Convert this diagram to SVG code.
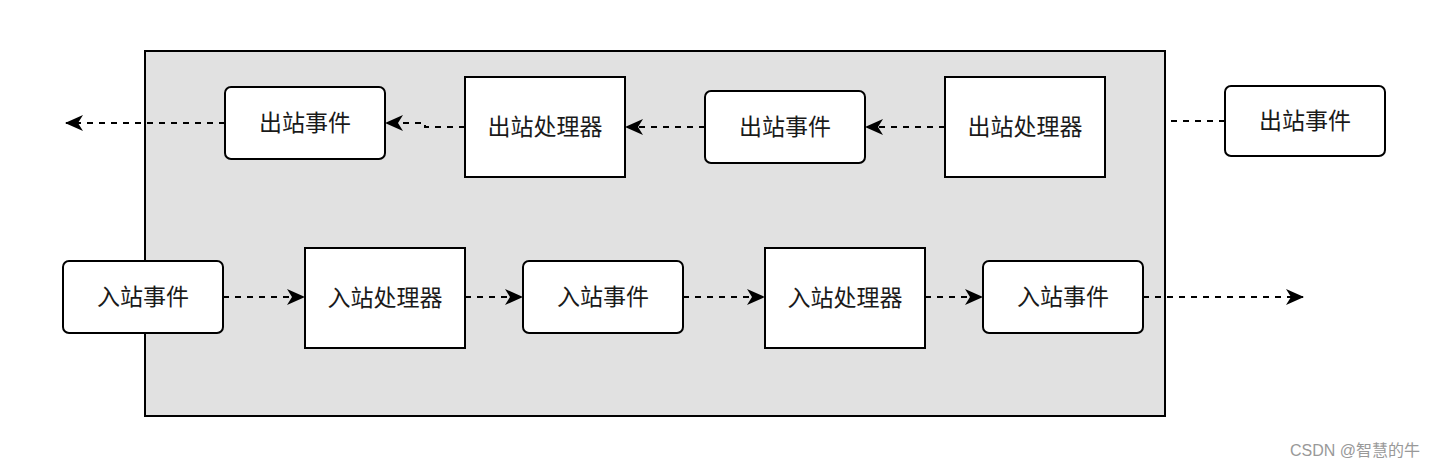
<svg xmlns="http://www.w3.org/2000/svg" width="1436" height="468" viewBox="0 0 1436 468">
<style>
.n{fill:#fff;stroke:#000;stroke-width:2}
.t{font-family:"Noto Sans CJK SC","Liberation Sans",sans-serif;font-size:23px;fill:#1a1a1a;text-anchor:middle;dominant-baseline:central}
.c{fill:none;stroke:#000;stroke-width:2;stroke-dasharray:6 6}
</style>
<defs>
<marker id="a" viewBox="0 0 18 18" refX="17" refY="9" markerWidth="18" markerHeight="18" markerUnits="userSpaceOnUse" orient="auto" overflow="visible">
<path d="M0,1 L18,9 L0,17 L5,9 Z" fill="#000"/>
</marker>
</defs>
<rect width="1436" height="468" fill="#fff"/>
<g id="container">
<rect x="145" y="51" width="1020" height="365" fill="#e1e1e1" stroke="#000" stroke-width="2"/>
</g>
<g id="connectors">
<path class="c" d="M1225,121 L1167,121"/>
<path class="c" d="M945,127 L866,127" marker-end="url(#a)"/>
<path class="c" d="M705,127 L626,127" marker-end="url(#a)"/>
<path class="c" d="M465,127 L425,127 L425,123 L386,123" marker-end="url(#a)"/>
<path class="c" d="M225,123 L66,123" marker-end="url(#a)"/>
<path class="c" d="M223,297 L304,297" marker-end="url(#a)"/>
<path class="c" d="M465,297 L522,297" marker-end="url(#a)"/>
<path class="c" d="M683,297 L764,297" marker-end="url(#a)"/>
<path class="c" d="M925,297 L982,297" marker-end="url(#a)"/>
<path class="c" d="M1143,297 L1303,297" marker-end="url(#a)"/>
</g>
<g id="out-event-1"><rect class="n" x="225" y="87" width="160" height="72" rx="6"/><text class="t" x="305" y="121">出站事件</text></g>
<g id="out-handler-1"><rect class="n" x="465" y="77" width="160" height="100"/><text class="t" x="545" y="125">出站处理器</text></g>
<g id="out-event-2"><rect class="n" x="705" y="91" width="160" height="72" rx="6"/><text class="t" x="785" y="125">出站事件</text></g>
<g id="out-handler-2"><rect class="n" x="945" y="77" width="160" height="100"/><text class="t" x="1025" y="125">出站处理器</text></g>
<g id="out-event-3"><rect class="n" x="1225" y="86" width="160" height="70" rx="6"/><text class="t" x="1305" y="119">出站事件</text></g>
<g id="in-event-1"><rect class="n" x="63" y="261" width="160" height="72" rx="6"/><text class="t" x="143" y="295">入站事件</text></g>
<g id="in-handler-1"><rect class="n" x="305" y="248" width="160" height="100"/><text class="t" x="385" y="296">入站处理器</text></g>
<g id="in-event-2"><rect class="n" x="523" y="261" width="160" height="72" rx="6"/><text class="t" x="603" y="295">入站事件</text></g>
<g id="in-handler-2"><rect class="n" x="765" y="248" width="160" height="100"/><text class="t" x="845" y="296">入站处理器</text></g>
<g id="in-event-3"><rect class="n" x="983" y="261" width="160" height="72" rx="6"/><text class="t" x="1063" y="295">入站事件</text></g>
<text x="1420" y="450" font-family="'Liberation Sans','Noto Sans CJK SC',sans-serif" font-size="16" fill="#999" text-anchor="end" dominant-baseline="central">CSDN @智慧的牛</text>
</svg>
